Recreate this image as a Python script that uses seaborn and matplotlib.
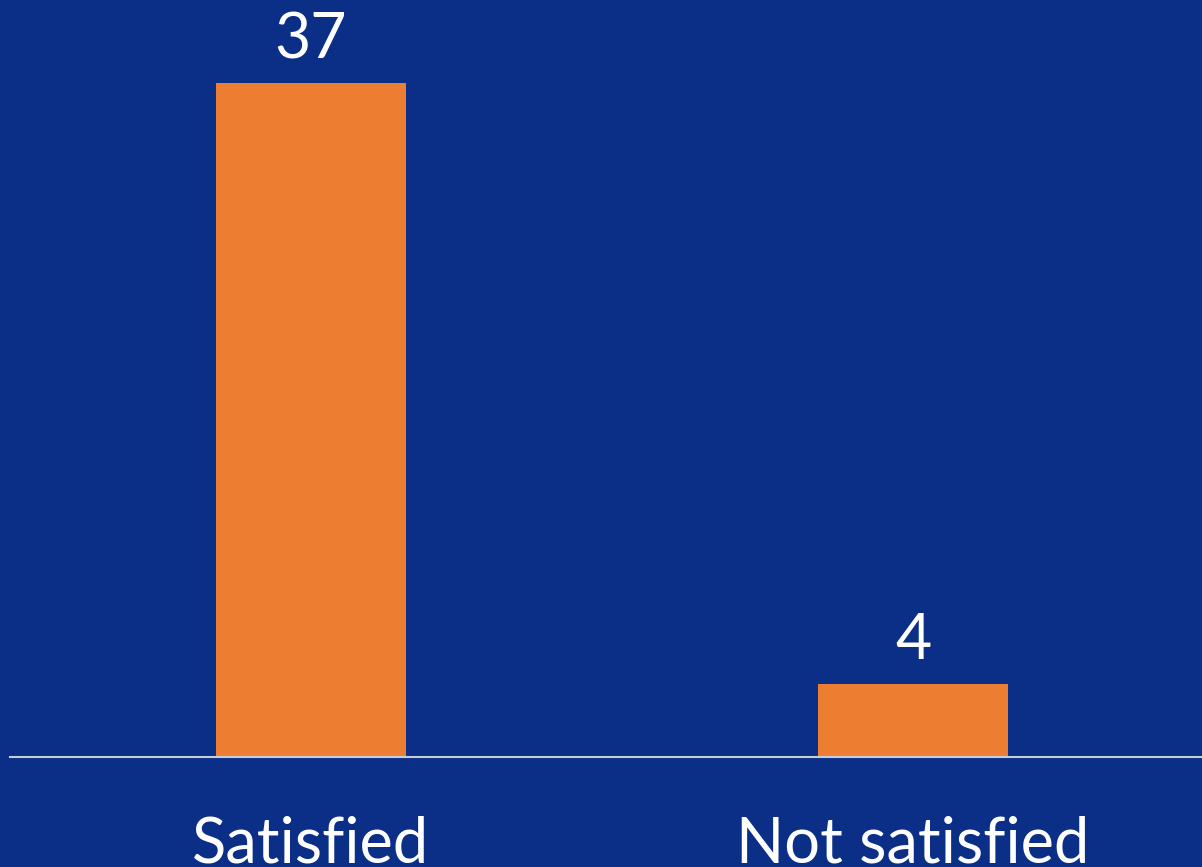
import matplotlib
matplotlib.use("Agg")
import matplotlib.pyplot as plt
import seaborn as sns
import pandas as pd

categories = ["Satisfied", "Not satisfied"]
counts = [37, 4]

BG = "#0B2F87"
BAR = "#ED7D31"

sns.set_theme(style="white")
plt.rcParams['font.family'] = ['Lato', 'DejaVu Sans']

df = pd.DataFrame({"category": categories, "count": counts})

fig = plt.figure(figsize=(12.02, 8.67), dpi=100)
fig.patch.set_facecolor(BG)
ax = fig.add_axes([10 / 1202, 110 / 867, 1204 / 1202, 757 / 867])
ax.set_facecolor(BG)

sns.barplot(data=df, x="category", y="count", color=BAR, width=0.314,
            saturation=1, linewidth=0, ax=ax)

ax.set_xlim(-0.5, 1.5)
ax.set_ylim(0, 757 / 18.22)

for i, v in enumerate(counts):
    ax.text(i, v + 0.75, str(v), ha="center", va="bottom", color="white",
            fontsize=45)

for s in ["top", "right", "left"]:
    ax.spines[s].set_visible(False)
ax.spines["bottom"].set_color("#C8CCD8")
ax.spines["bottom"].set_linewidth(1.5)
ax.set_yticks([])
ax.set_xlabel("")
ax.set_ylabel("")
ax.tick_params(axis="x", length=0, pad=42, labelsize=45.5, labelcolor="white")

fig.savefig("out.png", dpi=100, facecolor=BG)
